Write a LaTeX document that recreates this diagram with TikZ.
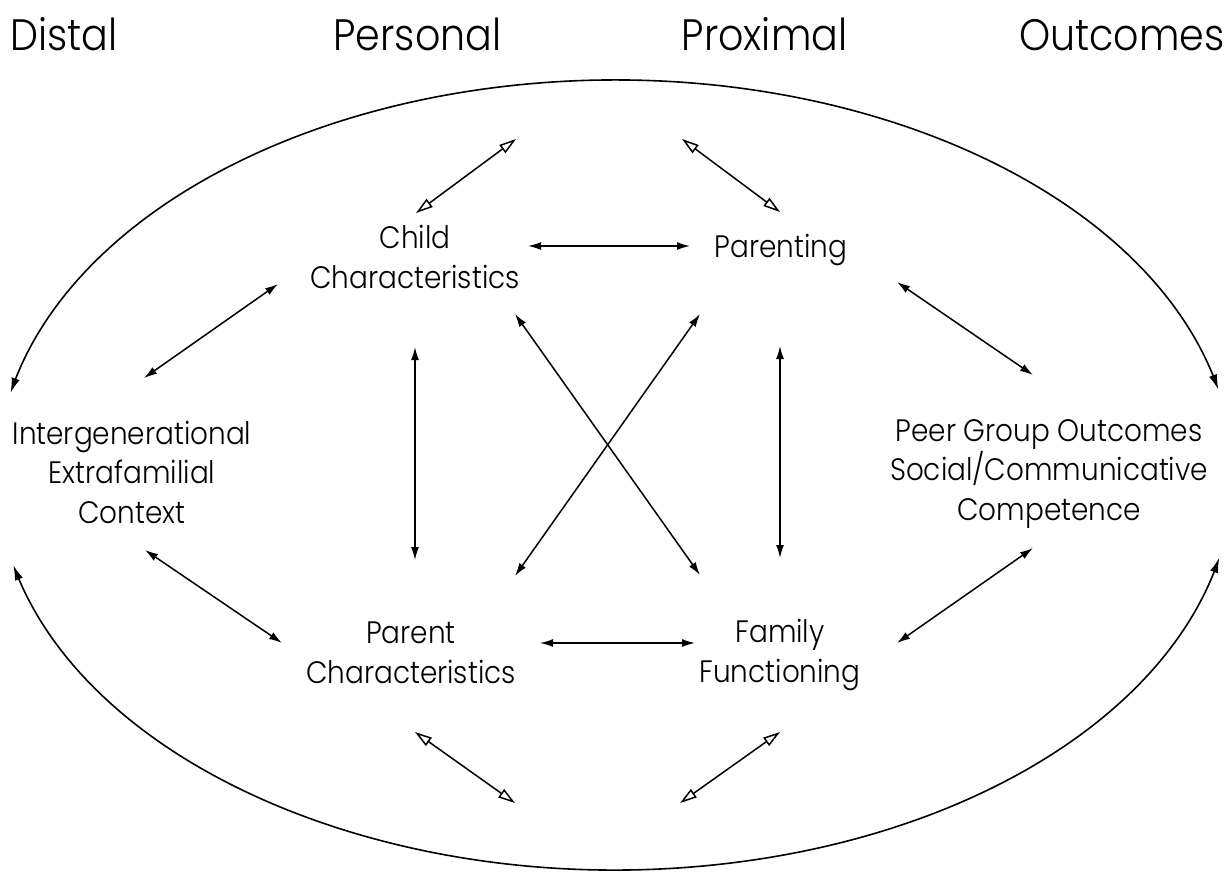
\documentclass[tikz,border=0pt]{standalone}
\usepackage{fontspec}
\IfFontExistsTF{Poppins Light}{\setmainfont{Poppins Light}[FakeStretch=0.9]}{\setmainfont{Poppins}[FakeStretch=0.9]}
\usetikzlibrary{arrows.meta,calc,bending}
\begin{document}
\begin{tikzpicture}[x=0.5pt,y=-0.5pt,
  lab/.style={align=center, inner sep=0pt, font=\fontsize{15.5}{19.75}\selectfont},
  hdr/.style={inner sep=0pt, anchor=base, font=\fontsize{22}{26}\selectfont},
  link/.style={line width=0.75pt, {Latex[length=6.5pt,width=4pt]}-{Latex[length=6.5pt,width=4pt]}},
  openlink/.style={line width=0.75pt, {Triangle[open,length=8.5pt,width=5pt]}-{Triangle[open,length=8.5pt,width=5pt]}},
  rim/.style={line width=0.8pt, {Latex[length=7.5pt,width=4.2pt,flex]}-{Latex[length=7.5pt,width=4.2pt,flex]}}]
\useasboundingbox (0,0) rectangle (1230,875);

% column headers
\node[hdr, anchor=base west] (hdist) at (10,50) {Distal};
\node[hdr] (hpers) at (417.5,50) {Personal};
\node[hdr] (hprox) at (764.5,50) {Proximal};
\node[hdr, anchor=base east] (hout) at (1225,50) {Outcomes};

% nodes
\node[lab] (child) at (415,257) {Child\\Characteristics};
\node[lab, anchor=base] (parenting) at (781,257) {Parenting};
\node[lab] (inter) at (132,472) {Intergenerational\\Extrafamilial\\Context};
\node[lab] (peer) at (1049,474) {Peer Group Outcomes\\Social/Communicative\\Competence};
\node[lab] (parent) at (411,653) {Parent\\Characteristics};
\node[lab] (family) at (780,655) {Family\\Functioning};

% free ends of open-headed links and rim
\coordinate (ot1) at (516,139);
\coordinate (ot2) at (682,139);
\coordinate (ob1) at (515,803);
\coordinate (ob2) at (680,803);
\coordinate (ctr) at (615,475);

% outer rim arcs
\draw[rim] (ctr) ++(-12.5:618 and 395) arc[start angle=-12.5, end angle=-168, x radius=618, y radius=395];
\draw[rim] (ctr) ++(166.8:618 and 395) arc[start angle=166.8, end angle=12.1, x radius=618, y radius=395];

% filled double-headed links
\draw[link] ($(child)+(113,-11)$) -- ($(parenting.base)+(-91,-11)$);
\draw[link] ($(parent)+(129,-10)$) -- ($(family)+(-85,-12)$);
\draw[link] ($(child)+(0,90)$) -- ($(parent)+(4,-93)$);
\draw[link] ($(parenting.base)+(-1,89)$) -- ($(family)+(0,-97)$);
\draw[link] ($(child)+(100,57)$) -- ($(family)+(-80,-80)$);
\draw[link] ($(parenting.base)+(-81,57)$) -- ($(parent)+(104,-77)$);
\draw[link] ($(inter)+(12,-94)$) -- ($(child)+(-137,27)$);
\draw[link] ($(inter)+(13,78)$) -- ($(parent)+(-129,-10)$);
\draw[link] ($(parenting.base)+(116,25)$) -- ($(peer)+(-16,-99)$);
\draw[link] ($(family)+(117,-12)$) -- ($(peer)+(-16,74)$);

% open-headed links
\draw[openlink] ($(child)+(1,-44)$) -- (ot1);
\draw[openlink] (ot2) -- ($(parenting.base)+(-1,-45)$);
\draw[openlink] ($(parent)+(4,79)$) -- (ob1);
\draw[openlink] (ob2) -- ($(family)+(0,77)$);
\end{tikzpicture}
\end{document}
